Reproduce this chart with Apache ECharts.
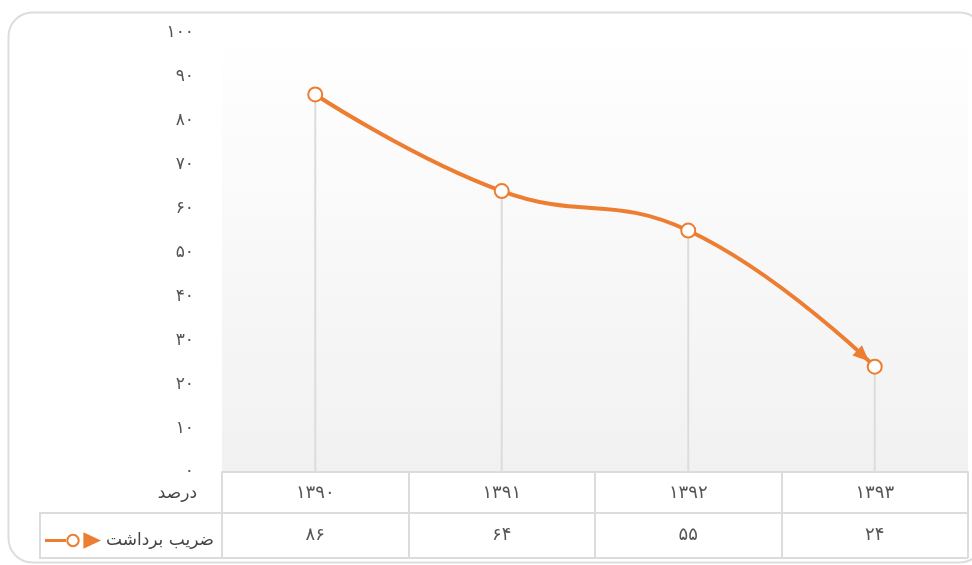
<!DOCTYPE html>
<html>
<head>
<meta charset="utf-8">
<script src="https://cdn.jsdelivr.net/npm/echarts@6/dist/echarts.min.js"></script>
<style>
  html, body { margin: 0; padding: 0; background: #fff; }
  #chart { width: 972px; height: 565px; }
</style>
</head>
<body>
<div id="chart"></div>
<script>
// years (shown in Persian digits)
const categories = ['1390', '1391', '1392', '1393']
// harvest coefficient, percent
const values = [86, 64, 55, 24]
const seriesName = 'ضریب برداشت'
const unitName = 'درصد'

const orange = '#ED7D31'
const lineGrey = '#dcdcdc'
const font = 'DejaVu Sans'

// latin digits -> persian digits
function fa(s) {
    return String(s).replace(/\d/g, d => '۰۱۲۳۴۵۶۷۸۹'[d])
}

// legend icon: short line, hollow circle, arrow head
const legendIcon = 'path://M0,6.5L21,6.5L21,9.5L0,9.5Z' +
    'M20.5,8A6.5,6.5 0 1,0 33.5,8A6.5,6.5 0 1,0 20.5,8Z' +
    'M22.5,8A4.5,4.5 0 1,1 31.5,8A4.5,4.5 0 1,1 22.5,8Z' +
    'M37,0L54,8L37,16Z'

var myChart = echarts.init(document.getElementById('chart'))

var option = {
    animation: false,
    textStyle: { fontFamily: font },
    grid: {
        left: 222, right: 4, top: 33, bottom: 93,
        show: true,
        borderWidth: 0,
        backgroundColor: {
            type: 'linear', x: 0, y: 0, x2: 0, y2: 1,
            colorStops: [{ offset: 0, color: '#ffffff' }, { offset: 1, color: '#f1f1f1' }]
        }
    },
    legend: {
        left: 40, top: 527,
        itemWidth: 56, itemHeight: 17,
        itemGap: 6,
        icon: legendIcon,
        data: [{ name: seriesName, itemStyle: { color: orange, borderWidth: 0 } }],
        textStyle: { fontFamily: font, fontSize: 17, color: '#444' }
    },
    xAxis: [{
        type: 'category',
        data: categories,
        position: 'bottom',
        boundaryGap: true,
        axisLine: { lineStyle: { color: lineGrey, width: 2 } },
        axisTick: { show: true, interval: 0, length: 86, lineStyle: { color: lineGrey, width: 2 } },
        axisLabel: {
            interval: 0, margin: 12, fontSize: 18, color: '#555',
            formatter: v => fa(v)
        }
    }, {
        type: 'category',
        data: categories,
        position: 'bottom',
        offset: 41,
        axisLine: { show: false },
        axisTick: { show: false },
        axisLabel: {
            interval: 0, margin: 13, fontSize: 18, color: '#555',
            formatter: (v, i) => fa(values[i])
        }
    }],
    yAxis: {
        type: 'value',
        min: 0, max: 100, interval: 10,
        name: unitName,
        nameLocation: 'start',
        nameGap: 13,
        nameTextStyle: { fontFamily: font, fontSize: 17, color: '#444', align: 'right', verticalAlign: 'top', padding: [0, 25, 0, 0] },
        axisLine: { show: false },
        axisTick: { show: false },
        splitLine: { show: false },
        axisLabel: { margin: 28, fontSize: 17, color: '#555', formatter: v => fa(v) }
    },
    series: [{
        // thin drop lines from each point to the axis
        type: 'bar',
        data: values,
        barWidth: 2,
        silent: true,
        itemStyle: { color: lineGrey },
        z: 1
    }, {
        name: seriesName,
        type: 'line',
        data: values,
        smooth: 0.45,
        symbol: 'emptyCircle',
        symbolSize: 14,
        lineStyle: { color: orange, width: 4 },
        itemStyle: { color: orange, borderWidth: 2 },
        z: 4
    }, {
        // arrow head at the end of the line
        type: 'custom',
        silent: true,
        data: [[categories.length - 1, values[values.length - 1]]],
        renderItem: function (params, api) {
            var end = api.coord([api.value(0), api.value(1)])
            var prev = api.coord([api.value(0) - 1, values[values.length - 2]])
            var a = Math.atan2(end[1] - prev[1], end[0] - prev[0]) + 0.12
            var ux = Math.cos(a), uy = Math.sin(a)
            var tip = [end[0] - ux * 8, end[1] - uy * 8]
            var base = [tip[0] - ux * 16, tip[1] - uy * 16]
            return {
                type: 'polygon',
                shape: { points: [tip, [base[0] - uy * 7, base[1] + ux * 7], [base[0] + uy * 7, base[1] - ux * 7]] },
                style: { fill: orange },
                z2: 10
            }
        },
        z: 3
    }],
    graphic: [{
        // rounded card
        type: 'rect',
        shape: { x: 8.5, y: 12.5, width: 975, height: 550, r: 24 },
        style: { fill: 'none', stroke: '#dddddd', lineWidth: 2 },
        z: -10, silent: true
    }, {
        type: 'line',
        shape: { x1: 40, y1: 513, x2: 968, y2: 513 },
        style: { stroke: lineGrey, lineWidth: 2 },
        silent: true
    }, {
        type: 'line',
        shape: { x1: 40, y1: 558, x2: 968, y2: 558 },
        style: { stroke: lineGrey, lineWidth: 2 },
        silent: true
    }, {
        type: 'line',
        shape: { x1: 40, y1: 512, x2: 40, y2: 559 },
        style: { stroke: lineGrey, lineWidth: 2 },
        silent: true
    }]
}

myChart.setOption(option)
</script>
</body>
</html>
